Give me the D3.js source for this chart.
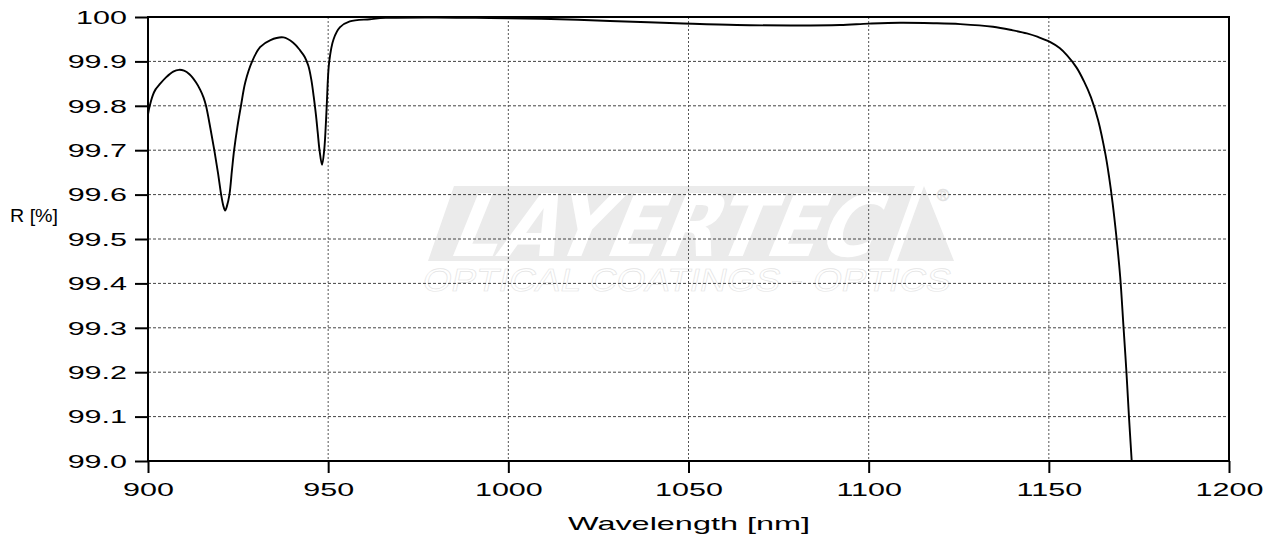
<!DOCTYPE html>
<html>
<head>
<meta charset="utf-8">
<script src="https://cdn.jsdelivr.net/npm/d3@7"></script>
<style>
  body { margin: 0; background: #fff; }
  text { font-family: "Liberation Sans", Arial, sans-serif; fill: #000; }
</style>
</head>
<body>
<div id="chart"></div>
<script>
// wavelength [nm] and reflectance [%]
const wavelength = [900, 900.4, 901.3, 902.1, 903.1, 905, 907, 908.6, 910, 911.5, 913.3, 914.5, 915.4, 916.1, 917.3, 918.4, 919.4, 920.3, 920.9, 921.4, 921.9, 922.6, 923.3, 923.9, 924.8, 925.8, 927, 928.9, 931.1, 934, 937.6, 940.3, 942.2, 943.5, 944.5, 945.3, 946, 946.6, 947.1, 947.6, 948.3, 948.9, 949.3, 949.6, 950.3, 951.5, 953.3, 956, 961.6, 966, 980, 991, 1000, 1014.3, 1028.2, 1046.7, 1063.4, 1080, 1092, 1100, 1108.7, 1118, 1125.4, 1134.5, 1140, 1143.9, 1147, 1150.3, 1153, 1155, 1157.7, 1159.7, 1161.7, 1163.7, 1165.7, 1166.7, 1167.7, 1168.7, 1169.8, 1170.7, 1171.5, 1172.2, 1173];
const reflectance = [99.781, 99.797, 99.823, 99.837, 99.847, 99.864, 99.877, 99.881, 99.879, 99.871, 99.853, 99.836, 99.819, 99.800, 99.750, 99.700, 99.650, 99.600, 99.575, 99.564, 99.574, 99.600, 99.655, 99.700, 99.752, 99.800, 99.853, 99.900, 99.932, 99.948, 99.954, 99.942, 99.925, 99.910, 99.890, 99.860, 99.820, 99.780, 99.740, 99.700, 99.667, 99.700, 99.750, 99.800, 99.900, 99.950, 99.977, 99.990, 99.995, 99.998, 99.999, 99.998, 99.997, 99.995, 99.991, 99.986, 99.982, 99.981, 99.982, 99.985, 99.987, 99.986, 99.984, 99.978, 99.970, 99.963, 99.955, 99.944, 99.930, 99.914, 99.886, 99.856, 99.819, 99.767, 99.691, 99.641, 99.581, 99.509, 99.415, 99.305, 99.205, 99.105, 99.000];

const xTicks = [900, 950, 1000, 1050, 1100, 1150, 1200];
const yTicks = [99.0, 99.1, 99.2, 99.3, 99.4, 99.5, 99.6, 99.7, 99.8, 99.9, 100];

const width = 1276, height = 539;
const margin = {top: 17, right: 47, bottom: 78, left: 148};
const stretch = 1.65; // text in the reference is drawn wide

const data = wavelength.map((w, i) => ({w: w, r: reflectance[i]}));

const x = d3.scaleLinear().domain([900, 1200]).range([margin.left, width - margin.right]);
const y = d3.scaleLinear().domain([99.0, 100]).range([height - margin.bottom, margin.top]);

const svg = d3.select("#chart").append("svg")
  .attr("width", width)
  .attr("height", height);

svg.append("rect").attr("width", width).attr("height", height).attr("fill", "#fff");

// watermark logo
const logo = svg.append("g").attr("class", "watermark");
logo.append("polygon")
  .attr("points", "454,186 915,186 888,261 428,261")
  .attr("fill", "#ebebeb");
logo.append("polygon")
  .attr("points", "924,186 954,261 897,261")
  .attr("fill", "#ebebeb");
logo.append("g")
  .attr("transform", "translate(446,256) skewX(-22)")
  .append("text")
  .attr("textLength", 424)
  .attr("lengthAdjust", "spacingAndGlyphs")
  .style("font-family", "DejaVu Sans")
  .style("font-weight", "bold")
  .style("font-size", "86px")
  .style("fill", "#fff")
  .text("LAYERTEC");
logo.append("text")
  .attr("x", 943).attr("y", 201)
  .attr("text-anchor", "middle")
  .style("font-size", "17px")
  .style("fill", "none")
  .style("stroke", "#e2e2e2")
  .style("stroke-width", 0.7)
  .text("®");
logo.append("g")
  .attr("transform", "translate(421,291) skewX(-12)")
  .append("text")
  .attr("textLength", 528)
  .attr("lengthAdjust", "spacingAndGlyphs")
  .style("font-size", "32px")
  .style("font-weight", "300")
  .style("fill", "none")
  .style("stroke", "#e3e3e3")
  .style("stroke-width", 0.6)
  .text("OPTICAL COATINGS - OPTICS");

// grid
svg.append("g")
  .selectAll("line")
  .data(yTicks.slice(1, -1))
  .join("line")
  .attr("x1", margin.left).attr("x2", width - margin.right)
  .attr("y1", d => y(d)).attr("y2", d => y(d))
  .attr("stroke", "#444")
  .attr("stroke-width", 1)
  .attr("stroke-dasharray", "3,2");

svg.append("g")
  .selectAll("line")
  .data(xTicks.slice(1, -1))
  .join("line")
  .attr("x1", d => x(d)).attr("x2", d => x(d))
  .attr("y1", margin.top).attr("y2", height - margin.bottom)
  .attr("stroke", "#555")
  .attr("stroke-width", 1)
  .attr("stroke-dasharray", "2,2");

// curve
svg.append("clipPath").attr("id", "plot-clip")
  .append("rect")
  .attr("x", margin.left).attr("y", margin.top)
  .attr("width", width - margin.left - margin.right)
  .attr("height", height - margin.top - margin.bottom);

const line = d3.line()
  .x(d => x(d.w))
  .y(d => y(d.r))
  .curve(d3.curveCatmullRom.alpha(0.5));

svg.append("path")
  .datum(data)
  .attr("clip-path", "url(#plot-clip)")
  .attr("fill", "none")
  .attr("stroke", "#000")
  .attr("stroke-width", 1.9)
  .attr("d", line);

// frame
svg.append("rect")
  .attr("x", margin.left).attr("y", margin.top)
  .attr("width", width - margin.left - margin.right)
  .attr("height", height - margin.top - margin.bottom)
  .attr("fill", "none")
  .attr("stroke", "#000")
  .attr("stroke-width", 2);

// axes
const yAxis = d3.axisLeft(y)
  .tickValues(yTicks)
  .tickSize(13)
  .tickSizeOuter(0)
  .tickFormat(d => d === 100 ? "100" : d3.format(".1f")(d));

const gy = svg.append("g")
  .attr("transform", "translate(" + margin.left + ",0)")
  .call(yAxis);
gy.select(".domain").remove();
gy.selectAll(".tick line").attr("stroke", "#000").attr("stroke-width", 2);
gy.selectAll(".tick text")
  .attr("x", -21 / stretch)
  .attr("dy", "0.34em")
  .attr("transform", "scale(" + stretch + ",1)")
  .style("font-size", "18.5px")
  .style("font-family", "Liberation Sans")
  .attr("fill", "#000");

const xAxis = d3.axisBottom(x)
  .tickValues(xTicks)
  .tickSize(12)
  .tickSizeOuter(0)
  .tickFormat(d3.format("d"));

const gx = svg.append("g")
  .attr("transform", "translate(0," + (height - margin.bottom) + ")")
  .call(xAxis);
gx.select(".domain").remove();
gx.selectAll(".tick line").attr("stroke", "#000").attr("stroke-width", 2);
gx.selectAll(".tick text")
  .attr("y", 21.5)
  .attr("dy", "0.71em")
  .attr("transform", "scale(" + stretch + ",1)")
  .style("font-size", "18.5px")
  .style("font-family", "Liberation Sans")
  .attr("fill", "#000");

// axis titles
svg.append("text")
  .attr("x", 689).attr("y", 530)
  .attr("text-anchor", "middle")
  .attr("textLength", 242)
  .attr("lengthAdjust", "spacingAndGlyphs")
  .style("font-size", "18.5px")
  .text("Wavelength [nm]");

svg.append("text")
  .attr("x", 10).attr("y", 222)
  .attr("textLength", 48)
  .attr("lengthAdjust", "spacingAndGlyphs")
  .style("font-size", "18.5px")
  .text("R [%]");
</script>
</body>
</html>
